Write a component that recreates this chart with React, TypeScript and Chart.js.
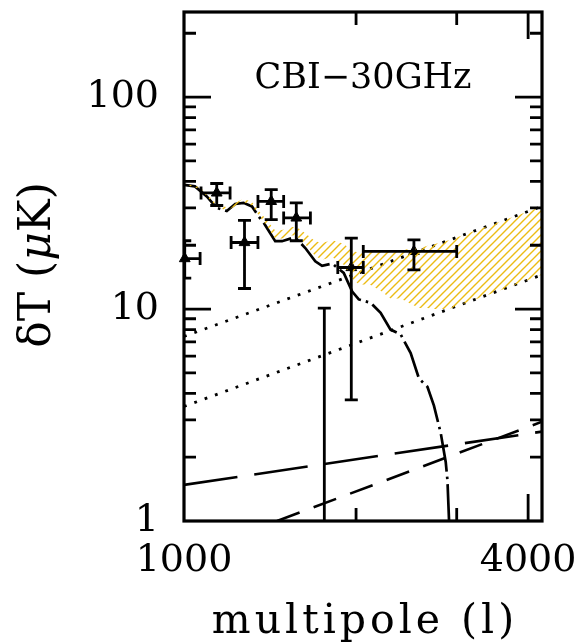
import React, { useEffect, useRef } from 'react';
import { Chart, registerables } from 'chart.js';

Chart.register(...registerables);

// ---- axis ranges & ticks ----
const X_MIN = 1000;
const X_MAX = 4230;
const Y_MIN = 1;
const Y_MAX = 252;
const xTickLabels = [1000, 4000];
const yTickLabels = [1, 10, 100];
const xMinorTicks = [2000, 3000];
const xMajorTicks = [4000];
const yMinorTicks = [2, 3, 4, 5, 6, 7, 8, 9, 20, 30, 40, 50, 60, 70, 80, 90, 200];
const yMajorTicks = [10, 100];

// ---- CMB model curve (dash-dot) ----
const cmbL = [1000, 1045, 1096, 1141, 1188, 1229, 1271, 1315, 1350, 1383, 1397, 1444, 1484, 1545, 1577, 1630, 1697, 1744, 1816, 1903, 1969, 2022, 2121, 2208, 2298, 2393, 2492, 2577, 2666, 2737, 2813, 2870, 2890, 2909, 2920];
const cmbV = [38.5, 37.9, 34.0, 30.0, 29.0, 31.3, 31.7, 30.5, 27.4, 25.2, 24.1, 20.9, 20.9, 21.6, 21.3, 19.4, 16.8, 16.0, 16.4, 14.8, 12.1, 11.1, 10.7, 9.6, 8.0, 7.6, 6.2, 4.7, 4.3, 3.5, 2.6, 1.9, 1.56, 1.0, 0.8];

// ---- SZ dotted lines ----
const szHighL = [1000, 4230];
const szHighV = [7.42, 30.5];
const szLowL = [1000, 4230];
const szLowV = [3.47, 14.5];

// ---- dashed lines ----
const longDashL = [1000, 4230];
const longDashV = [1.48, 2.64];
const shortDashL = [1455, 4230];
const shortDashV = [1.0, 2.94];

// ---- hatched band ----
const bandL = [1000, 1067, 1141, 1188, 1271, 1315, 1350, 1397, 1444, 1484, 1545, 1577, 1630, 1697, 1744, 1816, 1903, 1969, 2022, 2121, 2208, 2298, 2393, 2492, 2577, 2666, 2737, 2813, 2909, 3500, 4230];
const bandUpper = [39.2, 37.5, 31.2, 30.2, 33.1, 32.0, 29.2, 26.2, 23.5, 23.6, 24.4, 24.3, 22.8, 20.9, 20.5, 21.1, 20.3, 18.8, 18.5, 18.8, 18.8, 18.6, 19.0, 19.2, 19.3, 19.9, 20.2, 20.6, 21.1, 25.3, 30.5];
const bandLower = [38.7, 36.8, 30.3, 29.2, 32.0, 30.8, 27.8, 24.6, 21.5, 21.5, 22.3, 22.0, 20.2, 17.8, 17.1, 17.6, 16.2, 13.9, 13.1, 13.0, 12.2, 11.2, 11.2, 10.6, 10.1, 10.1, 10.0, 10.0, 10.0, 12.0, 14.5];

// ---- CBI data points with error bars ----
const pointL = [1003, 1141, 1276, 1421, 1572, 1962, 2525];
const pointV = [17.3, 35.3, 20.6, 32.2, 26.9, 15.7, 18.7];
const pointLLo = [957, 1071, 1209, 1347, 1494, 1858, 2059];
const pointLHi = [1067, 1204, 1347, 1494, 1664, 2059, 3000];
const pointVLo = [14.0, 30.8, 12.5, 26.4, 21.0, 3.73, 15.3];
const pointVHi = [21.0, 39.1, 26.2, 36.6, 31.7, 21.6, 21.2];

// ---- upper-limit bar ----
const limitL = [1760];
const limitV = [10.1];
const limitLo = [0.5];

const FONT = '"DejaVu Serif", serif';

const xy = (ls: number[], vs: number[]) => ls.map((l, i) => ({ x: l, y: vs[i] }));

const decorPlugin = {
  id: 'decor',
  afterDatasetsDraw(chart: any) {
    const { ctx, chartArea: a, scales } = chart;
    const xs = scales.x;
    const ys = scales.y;
    ctx.save();
    ctx.beginPath();
    ctx.rect(a.left, a.top, a.right - a.left, a.bottom - a.top);
    ctx.clip();
    ctx.strokeStyle = '#000';
    ctx.lineWidth = 2.8;
    ctx.lineCap = 'butt';
    const cap = 6.5;
    ctx.beginPath();
    for (let i = 0; i < pointL.length; i++) {
      const px = xs.getPixelForValue(pointL[i]);
      const py = ys.getPixelForValue(pointV[i]);
      const x0 = xs.getPixelForValue(pointLLo[i]);
      const x1 = xs.getPixelForValue(pointLHi[i]);
      const y0 = ys.getPixelForValue(pointVLo[i]);
      const y1 = ys.getPixelForValue(pointVHi[i]);
      ctx.moveTo(x0, py); ctx.lineTo(x1, py);
      ctx.moveTo(x0, py - cap); ctx.lineTo(x0, py + cap);
      ctx.moveTo(x1, py - cap); ctx.lineTo(x1, py + cap);
      ctx.moveTo(px, y0); ctx.lineTo(px, y1);
      ctx.moveTo(px - cap, y0); ctx.lineTo(px + cap, y0);
      ctx.moveTo(px - cap, y1); ctx.lineTo(px + cap, y1);
    }
    for (let i = 0; i < limitL.length; i++) {
      const px = xs.getPixelForValue(limitL[i]);
      const y0 = ys.getPixelForValue(limitLo[i]);
      const y1 = ys.getPixelForValue(limitV[i]);
      ctx.moveTo(px, y0); ctx.lineTo(px, y1);
      ctx.moveTo(px - cap, y1); ctx.lineTo(px + cap, y1);
    }
    ctx.stroke();
    ctx.restore();

    // frame + inward ticks
    ctx.save();
    ctx.strokeStyle = '#000';
    ctx.lineWidth = 2.8;
    ctx.beginPath();
    const minorLen = 12;
    const majorLen = 27;
    const yt = (vals: number[], len: number) => {
      vals.forEach((v) => {
        const py = ys.getPixelForValue(v);
        ctx.moveTo(a.left, py); ctx.lineTo(a.left + len, py);
        ctx.moveTo(a.right, py); ctx.lineTo(a.right - len, py);
      });
    };
    const xt = (vals: number[], len: number) => {
      vals.forEach((v) => {
        const px = xs.getPixelForValue(v);
        ctx.moveTo(px, a.bottom); ctx.lineTo(px, a.bottom - len);
        ctx.moveTo(px, a.top); ctx.lineTo(px, a.top + len);
      });
    };
    yt(yMinorTicks, minorLen);
    yt(yMajorTicks, majorLen);
    xt(xMinorTicks, 13);
    xt(xMajorTicks, majorLen);
    ctx.stroke();
    ctx.lineWidth = 3.2;
    ctx.strokeRect(a.left, a.top, a.right - a.left, a.bottom - a.top);
    ctx.restore();
  },
  afterDraw(chart: any) {
    const { ctx, chartArea: a } = chart;
    const cx = (a.left + a.right) / 2;
    ctx.save();
    ctx.fillStyle = '#000';
    ctx.textBaseline = 'alphabetic';
    ctx.textAlign = 'center';
    ctx.font = `35px ${FONT}`;
    ctx.fillText('CBI\u221230GHz', cx, 88);

    ctx.font = `41px ${FONT}`;
    (ctx as any).letterSpacing = '4px';
    ctx.fillText('multipole (l)', cx + 2, 633);
    (ctx as any).letterSpacing = '0px';

    // y title, rotated
    ctx.translate(50, 265);
    ctx.rotate(-Math.PI / 2);
    ctx.textAlign = 'left';
    const parts = [
      { t: '\u03B4T (', f: `44px ${FONT}` },
      { t: '\u03BC', f: `italic 44px ${FONT}` },
      { t: 'K)', f: `44px ${FONT}` },
    ];
    let total = 0;
    parts.forEach((p) => { ctx.font = p.f; total += ctx.measureText(p.t).width; });
    let x = -total / 2;
    parts.forEach((p) => { ctx.font = p.f; ctx.fillText(p.t, x, 0); x += ctx.measureText(p.t).width; });
    ctx.restore();
  },
};

function makeHatch(): CanvasPattern | string {
  const c = document.createElement('canvas');
  const s = 8;
  c.width = s; c.height = s;
  const g = c.getContext('2d');
  if (!g) return 'rgba(236,190,40,0.4)';
  g.strokeStyle = 'rgb(236,188,20)';
  g.lineWidth = 1.4;
  g.beginPath();
  g.moveTo(0, s); g.lineTo(s, 0);
  g.moveTo(-s / 2, s / 2); g.lineTo(s / 2, -s / 2);
  g.moveTo(s / 2, s * 1.5); g.lineTo(s * 1.5, s / 2);
  g.stroke();
  return g.createPattern(c, 'repeat') || 'rgba(236,190,40,0.4)';
}

export default function App() {
  const ref = useRef<HTMLCanvasElement | null>(null);
  useEffect(() => {
    document.body.style.margin = '0';
    const canvas = ref.current;
    if (!canvas) return;
    const hatch = makeHatch();
    const lineBase = { pointRadius: 0, borderColor: '#000', fill: false, tension: 0, showLine: true };
    const chart = new Chart(canvas, {
      type: 'scatter',
      data: {
        datasets: [
          { ...lineBase, data: xy(bandL, bandUpper), borderWidth: 0, fill: '+1', backgroundColor: hatch as any },
          { ...lineBase, data: xy(bandL, bandLower), borderWidth: 0 },
          { ...lineBase, data: xy(szHighL, szHighV), borderWidth: 2.8, borderDash: [2.8, 8.2] },
          { ...lineBase, data: xy(szLowL, szLowV), borderWidth: 2.8, borderDash: [2.8, 8.2] },
          { ...lineBase, data: xy(longDashL, longDashV), borderWidth: 2.6, borderDash: [54, 17] },
          { ...lineBase, data: xy(shortDashL, shortDashV), borderWidth: 2.6, borderDash: [24, 15] },
          { ...lineBase, data: xy(cmbL, cmbV), borderWidth: 2.7, borderDash: [38, 5, 2.5, 5] },
          {
            data: xy(pointL, pointV),
            showLine: false,
            pointStyle: 'triangle',
            pointRadius: 6.2,
            backgroundColor: '#000',
            borderColor: '#000',
            borderWidth: 1,
            clip: false as any,
          },
        ] as any,
      },
      options: {
        responsive: false,
        maintainAspectRatio: false,
        animation: false,
        devicePixelRatio: 1,
        layout: { padding: { left: 0, right: 37, top: 12, bottom: 0 } },
        plugins: { legend: { display: false }, tooltip: { enabled: false } },
        scales: {
          x: {
            type: 'logarithmic',
            min: X_MIN,
            max: X_MAX,
            position: 'bottom',
            grid: { display: false, drawTicks: false },
            border: { display: false },
            ticks: {
              autoSkip: false,
              maxRotation: 0,
              minRotation: 0,
              padding: 17,
              color: '#000',
              font: { family: FONT, size: 38 },
              callback: (v: any) => (xTickLabels.includes(Number(v)) ? String(v) : ''),
            },
            afterBuildTicks: (s: any) => { s.ticks = xTickLabels.map((v) => ({ value: v })); },
            afterFit: (s: any) => { s.height = 121; s.paddingLeft = 0; s.paddingRight = 0; },
          },
          y: {
            type: 'logarithmic',
            min: Y_MIN,
            max: Y_MAX,
            position: 'left',
            grid: { display: false, drawTicks: false },
            border: { display: false },
            ticks: {
              autoSkip: false,
              padding: 25,
              color: '#000',
              font: { family: FONT, size: 38 },
              callback: (v: any) => (yTickLabels.includes(Number(v)) ? String(v) : ''),
            },
            afterBuildTicks: (s: any) => { s.ticks = yTickLabels.map((v) => ({ value: v })); },
            afterFit: (s: any) => { s.width = 184; s.paddingTop = 0; s.paddingBottom = 0; },
          },
        },
      } as any,
      plugins: [decorPlugin],
    });
    return () => chart.destroy();
  }, []);
  return <canvas ref={ref} width={579} height={642} style={{ display: 'block' }} />;
}
